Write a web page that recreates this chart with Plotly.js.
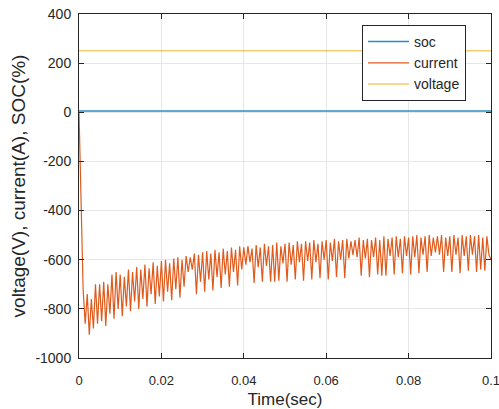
<!DOCTYPE html>
<html>
<head>
<meta charset="utf-8">
<script src="https://cdn.plot.ly/plotly-3.0.1.min.js"></script>
<style>html,body{margin:0;padding:0;background:#fff;}#chart{width:499px;height:409px;}</style>
</head>
<body>
<div id="chart"></div>
<script>
// time step 0.0005 s, 0 .. 0.1 s
const dt = 0.0005;
const currentValues = [
  0, -350, -720, -860, -740, -905, -760, -880, -700, -860,
  -700, -850, -690, -870, -700, -820, -660, -840, -650, -800,
  -660, -830, -670, -790, -640, -810, -650, -770, -630, -800,
  -640, -760, -620, -790, -635, -740, -610, -780, -625, -750,
  -605, -770, -600, -730, -615, -765, -595, -720, -590, -755,
  -600, -710, -585, -650, -590, -640, -575, -740, -580, -690,
  -570, -730, -565, -680, -575, -725, -560, -670, -570, -715,
  -555, -660, -565, -710, -550, -650, -560, -705, -545, -640,
  -550, -620, -545, -610, -555, -695, -540, -630, -550, -690,
  -535, -625, -545, -690, -540, -690, -530, -685, -545, -615,
  -535, -690, -530, -620, -540, -680, -525, -610, -535, -685,
  -525, -605, -530, -680, -520, -610, -535, -675, -525, -600,
  -520, -680, -530, -605, -515, -670, -525, -600, -520, -675,
  -515, -595, -525, -580, -520, -590, -510, -665, -520, -595,
  -515, -670, -520, -590, -510, -660, -520, -665, -505, -665,
  -515, -585, -510, -660, -505, -590, -515, -655, -505, -585,
  -510, -660, -505, -590, -500, -655, -510, -580, -505, -650,
  -500, -585, -510, -570, -505, -580, -500, -650, -510, -585,
  -505, -650, -500, -580, -510, -655, -500, -585, -505, -645,
  -500, -580, -505, -650, -500, -640, -510, -645, -505, -580,
  -600
];
const timeValues = currentValues.map((_, i) => +(i * dt).toFixed(4));
const socTime = [0, 0.1];
const socValues = [5, 5];
const voltageTime = [0, 0.1];
const voltageValues = [250, 250];
const yTickVals = [-1000, -800, -600, -400, -200, 0, 200, 400];
const yTickText = ["-1000", "-800", "-600", "-400", "-200", "0", "200", "400"];
const xTickVals = [0, 0.02, 0.04, 0.06, 0.08, 0.1];
const xTickText = ["0", "0.02", "0.04", "0.06", "0.08", "0.1"];

const FONT = "Liberation Sans, Arial, sans-serif";
const traces = [
  {x: socTime, y: socValues, name: "soc", mode: "lines", line: {color: "#2a8dbf", width: 1.5}},
  {x: timeValues, y: currentValues, name: "current", mode: "lines", line: {color: "#e05a1c", width: 1.2}},
  {x: voltageTime, y: voltageValues, name: "voltage", mode: "lines", line: {color: "#edb120", width: 1}}
];

const axisCommon = {
  showline: true, mirror: "ticks", linecolor: "#262626", linewidth: 1,
  ticks: "inside", ticklen: 5, tickcolor: "#262626",
  showgrid: true, gridcolor: "#e6e6e6", gridwidth: 1,
  zeroline: false, ticklabeloverflow: "allow"
};

const layout = {
  width: 499, height: 409,
  margin: {l: 79, r: 8, t: 14, b: 51},
  paper_bgcolor: "#fff", plot_bgcolor: "#fff",
  showlegend: true,
  legend: {
    x: 0.687, y: 0.968, xanchor: "left", yanchor: "top",
    bgcolor: "#fff", bordercolor: "#262626", borderwidth: 1,
    font: {family: FONT, size: 14, color: "#262626"},
    tracegroupgap: 0, itemwidth: 41
  },
  xaxis: Object.assign({}, axisCommon, {
    range: [0, 0.1], tickvals: xTickVals, ticktext: xTickText,
    ticklabelstandoff: 10,
    tickfont: {family: FONT, size: 13, color: "#262626"},
    title: {text: "Time(sec)", font: {family: FONT, size: 17, color: "#262626"}, standoff: 9}
  }),
  yaxis: Object.assign({}, axisCommon, {
    range: [-1000, 400], tickvals: yTickVals, ticktext: yTickText,
    ticklabelstandoff: 4,
    tickfont: {family: FONT, size: 14, color: "#262626"},
    title: {text: "voltage(V), current(A), SOC(%)", font: {family: FONT, size: 19, color: "#262626"}, standoff: 4}
  })
};

Plotly.newPlot("chart", traces, layout, {staticPlot: true, displayModeBar: false});
</script>
</body>
</html>
